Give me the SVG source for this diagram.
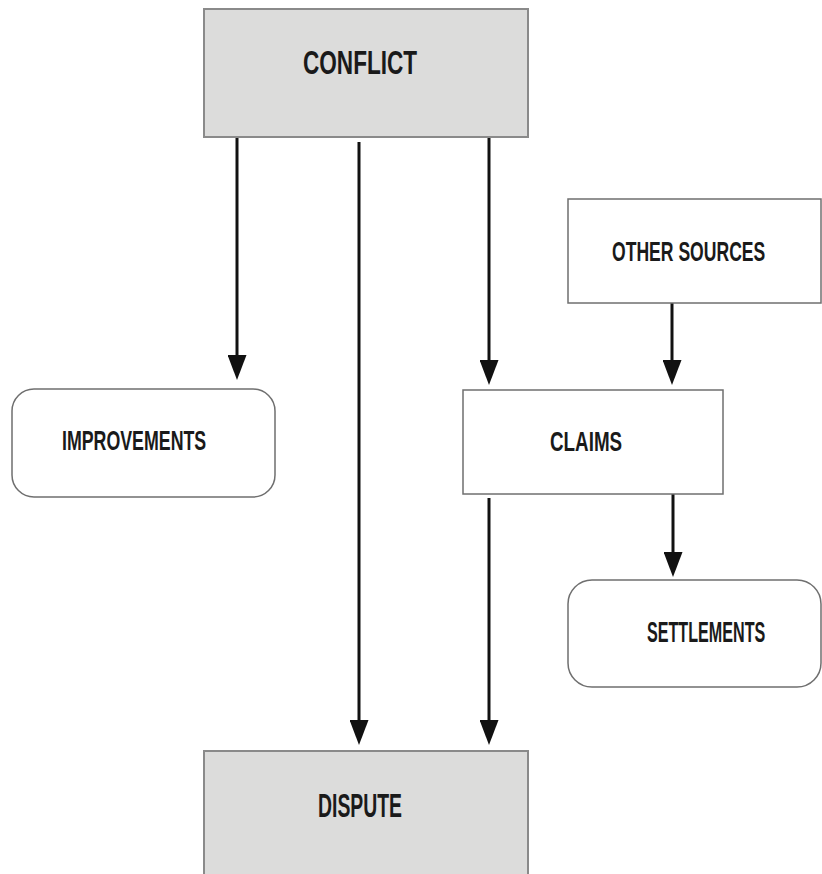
<svg xmlns="http://www.w3.org/2000/svg" width="822" height="874" viewBox="0 0 822 874">
<style>
  .box { fill: #ffffff; stroke: #6f6f6f; stroke-width: 1.5; }
  .grey { fill: #dcdcdb; stroke: #8a8a8a; stroke-width: 2; }
  .lbl { font-family: "Liberation Sans", Arial, sans-serif; font-weight: bold; fill: #1a1a1a; }
  .conn { stroke: #111111; stroke-width: 3; fill: none; marker-end: url(#arrow); }
</style>
<defs>
  <marker id="arrow" markerUnits="userSpaceOnUse" viewBox="0 0 25 19" markerWidth="25" markerHeight="19" refX="15" refY="9.5" orient="auto">
    <path d="M0,0 L25,9.5 L0,19 z" fill="#111111"/>
  </marker>
</defs>
<rect width="822" height="874" fill="#ffffff"/>
<g id="connectors">
  <line class="conn" x1="237" y1="137" x2="237" y2="370"/>
  <line class="conn" x1="359" y1="142" x2="359" y2="735"/>
  <line class="conn" x1="489" y1="137" x2="489" y2="375"/>
  <line class="conn" x1="672" y1="303" x2="672" y2="375"/>
  <line class="conn" x1="489" y1="498" x2="489" y2="735"/>
  <line class="conn" x1="673" y1="493" x2="673" y2="567"/>
</g>
<g id="conflict">
  <rect class="grey" x="204" y="9" width="324" height="128"/>
  <text class="lbl" transform="translate(303,74) scale(0.7,1)" x="0" y="0" font-size="33" textLength="163" lengthAdjust="spacingAndGlyphs">CONFLICT</text>
</g>
<g id="other-sources">
  <rect class="box" x="568" y="199" width="253" height="104"/>
  <text class="lbl" transform="translate(612,261) scale(0.7,1)" x="0" y="0" font-size="27" textLength="219" lengthAdjust="spacingAndGlyphs">OTHER SOURCES</text>
</g>
<g id="improvements">
  <rect class="box" x="12" y="389" width="263" height="108" rx="22" ry="22"/>
  <text class="lbl" transform="translate(62,450) scale(0.7,1)" x="0" y="0" font-size="28" textLength="206" lengthAdjust="spacingAndGlyphs">IMPROVEMENTS</text>
</g>
<g id="claims">
  <rect class="box" x="463" y="390" width="260" height="104"/>
  <text class="lbl" transform="translate(550,451) scale(0.7,1)" x="0" y="0" font-size="27" textLength="103" lengthAdjust="spacingAndGlyphs">CLAIMS</text>
</g>
<g id="settlements">
  <rect class="box" x="568" y="580" width="253" height="107" rx="24" ry="24"/>
  <text class="lbl" transform="translate(647,642) scale(0.7,1)" x="0" y="0" font-size="30" textLength="169" lengthAdjust="spacingAndGlyphs">SETTLEMENTS</text>
</g>
<g id="dispute">
  <rect class="grey" x="204" y="751" width="324" height="140"/>
  <text class="lbl" transform="translate(318,817) scale(0.7,1)" x="0" y="0" font-size="33" textLength="120" lengthAdjust="spacingAndGlyphs">DISPUTE</text>
</g>
</svg>
